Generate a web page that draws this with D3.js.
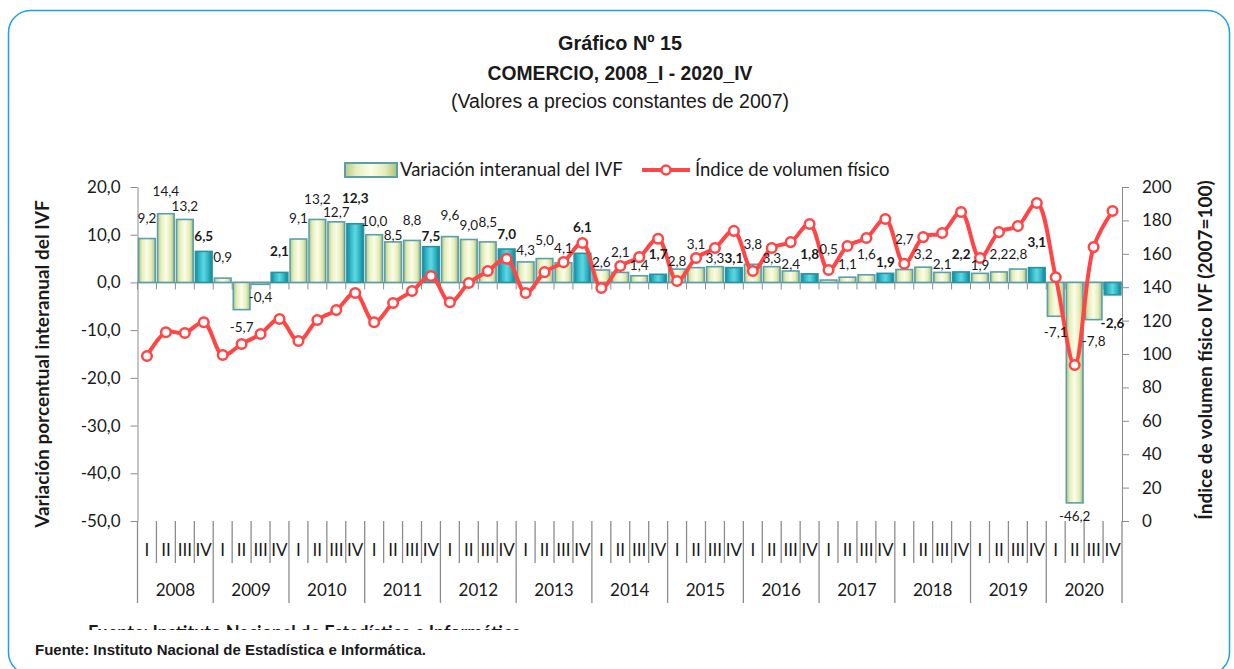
<!DOCTYPE html>
<html lang="es">
<head>
<meta charset="utf-8">
<title>Gráfico Nº 15 - Comercio</title>
<script src="https://cdn.jsdelivr.net/npm/d3@7"></script>
<style>
  body { margin: 0; background: #fff; }
  text { font-family: Lato, "Open Sans", sans-serif; fill: #1a1a1a; }
  .narrow, .narrow text { font-family: "Liberation Sans Narrow", "Arial Narrow", "Liberation Sans", sans-serif; }
  .axis path, .axis line { stroke: #8c8c8c; }
</style>
</head>
<body>
<div id="chart"></div>
<script>

// data
var years = ["2008","2009","2010","2011","2012","2013","2014","2015","2016","2017","2018","2019","2020"];
var quarters = ["I","II","III","IV"];

// Variación interanual del IVF (%)
var variacion = [
   9.2, 14.4, 13.2,  6.5,
   0.9, -5.7, -0.4,  2.1,
   9.1, 13.2, 12.7, 12.3,
  10.0,  8.5,  8.8,  7.5,
   9.6,  9.0,  8.5,  7.0,
   4.3,  5.0,  4.1,  6.1,
   2.6,  2.1,  1.4,  1.7,
   2.8,  3.1,  3.3,  3.1,
   3.8,  3.3,  2.4,  1.8,
   0.5,  1.1,  1.6,  1.9,
   2.7,  3.2,  2.1,  2.2,
   1.9,  2.2,  2.8,  3.1,
  -7.1, -46.2, -7.8, -2.6
];

// Índice de volumen físico (2007=100)
var indice = [
   98.8, 113.0, 112.6, 119.0,
   99.4, 106.0, 112.0, 121.0,
  107.8, 120.4, 126.3, 136.5,
  119.0, 130.5, 137.7, 146.7,
  131.0, 142.5, 149.7, 157.0,
  136.5, 149.0, 155.0, 166.5,
  139.5, 152.7, 158.0, 169.0,
  143.7, 157.5, 163.5, 173.7,
  149.7, 163.5, 167.0, 177.8,
  150.3, 164.7, 169.5, 180.8,
  154.0, 170.0, 172.5, 185.0,
  157.5, 173.0, 176.6, 190.4,
  146.0,  93.4, 164.0, 185.6
];

var leftTicks = [20, 10, 0, -10, -20, -30, -40, -50];
var rightTicks = [0, 20, 40, 60, 80, 100, 120, 140, 160, 180, 200];

// how far each data label sits from the end of its bar (px), as placed in the original
var labelGap = [
  20, 22, 13, 15,  21, 18, 13, 21,  21, 20, 10, 25,  13,  7, 20, 10,
  21, 14, 20, 15,  12, 18, 15, 26,   8, 20, 10, 20,   8, 23,  8,  9,
  20,  8,  7, 20,  31, 13, 21, 11,  30, 13,  8, 18,   8, 18, 15, 25,
  16, 13, 22, 28
];

var W = 1234, H = 669;
var x0 = 137.5, x1 = 1122, yTop = 187, yBot = 521;

var svg = d3.select("#chart").append("svg")
    .attr("width", W)
    .attr("height", H);

var defs = svg.append("defs");

function grad(id, stops) {
  var g = defs.append("linearGradient").attr("id", id)
      .attr("x1", "0").attr("x2", "1").attr("y1", "0").attr("y2", "0");
  stops.forEach(function(s) {
    g.append("stop").attr("offset", s[0]).attr("stop-color", s[1]);
  });
}
grad("pale", [["0%", "#b4c98a"], ["22%", "#e6efbd"], ["50%", "#fbfde8"], ["78%", "#e3ecb8"], ["100%", "#a9bf7c"]]);
grad("teal", [["0%", "#15899a"], ["25%", "#32bccb"], ["50%", "#63d6e0"], ["75%", "#2fb8c8"], ["100%", "#127f8f"]]);

defs.append("clipPath").attr("id", "cut")
  .append("rect").attr("x", 0).attr("y", 600).attr("width", W).attr("height", 30);

// frame
svg.append("rect")
    .attr("x", 8.5).attr("y", 10.5)
    .attr("width", 1221).attr("height", 664)
    .attr("rx", 22).attr("ry", 22)
    .attr("fill", "none")
    .attr("stroke", "#1f9fe6")
    .attr("stroke-width", 1.5);

// titles
var title = svg.append("g").attr("class", "narrow").attr("text-anchor", "middle");
title.append("text").attr("x", 620).attr("y", 50)
    .attr("textLength", 124).attr("lengthAdjust", "spacingAndGlyphs")
    .style("font-size", "20px").style("font-weight", "bold").text("Gráfico Nº 15");
title.append("text").attr("x", 620).attr("y", 80)
    .attr("textLength", 265).attr("lengthAdjust", "spacingAndGlyphs")
    .style("font-size", "20px").style("font-weight", "bold").text("COMERCIO, 2008_I - 2020_IV");
title.append("text").attr("x", 620).attr("y", 108)
    .attr("textLength", 338).attr("lengthAdjust", "spacingAndGlyphs")
    .style("font-size", "20px").text("(Valores a precios constantes de 2007)");

// scales
var idx = d3.range(variacion.length);
var x = d3.scaleBand()
    .domain(idx)
    .range([x0, x1])
    .paddingInner(0.12)
    .paddingOuter(0.06);
var step = x.step();

var yL = d3.scaleLinear().domain([-50, 20]).range([yBot, yTop]);
var yR = d3.scaleLinear().domain([0, 200]).range([yBot, yTop]);

var fmt = function(v) { return v.toFixed(1).replace(".", ","); };

// left axis
var axL = svg.append("g")
    .attr("class", "axis")
    .attr("transform", "translate(" + x0 + ",0)")
    .call(d3.axisLeft(yL).tickValues(leftTicks).tickSize(7).tickSizeOuter(0).tickPadding(10).tickFormat(fmt));
axL.selectAll("text").style("font-size", "17px").style("font-family", "Lato, sans-serif").attr("fill", "#1a1a1a");

// right axis
var axR = svg.append("g")
    .attr("class", "axis")
    .attr("transform", "translate(" + x1 + ",0)")
    .call(d3.axisRight(yR).tickValues(rightTicks).tickSize(7).tickSizeOuter(0).tickPadding(13));
axR.selectAll("text").style("font-size", "17px").style("font-family", "Lato, sans-serif").attr("fill", "#1a1a1a");

// axis titles
svg.append("text")
    .attr("transform", "translate(49," + (yTop + yBot + 20) / 2 + ") rotate(-90)")
    .attr("text-anchor", "middle")
    .style("font-size", "19px").style("font-weight", "bold")
    .text("Variación porcentual interanual del IVF");

svg.append("text")
    .attr("transform", "translate(1212," + (yTop + yBot - 8) / 2 + ") rotate(-90)")
    .attr("text-anchor", "middle")
    .style("font-size", "19px").style("font-weight", "bold")
    .text("Índice de volumen físico IVF (2007=100)");

// zero line with category ticks
var zero = yL(0);
svg.append("line")
    .attr("x1", x0).attr("x2", x1).attr("y1", zero).attr("y2", zero)
    .attr("stroke", "#8c8c8c").attr("stroke-width", 1.5);
svg.append("g").selectAll("line")
    .data(d3.range(variacion.length + 1))
  .enter().append("line")
    .attr("x1", function(i) { return x0 + i * step; })
    .attr("x2", function(i) { return x0 + i * step; })
    .attr("y1", zero).attr("y2", zero + 7)
    .attr("stroke", "#8c8c8c");

// bars
svg.append("g").selectAll("rect")
    .data(idx)
  .enter().append("rect")
    .attr("x", function(i) { return x(i); })
    .attr("width", x.bandwidth())
    .attr("y", function(i) { return Math.min(yL(variacion[i]), zero); })
    .attr("height", function(i) { return Math.abs(yL(variacion[i]) - zero); })
    .attr("fill", function(i) { return i % 4 == 3 ? "url(#teal)" : "url(#pale)"; })
    .attr("stroke", function(i) { return i % 4 == 3 ? "#2a93a3" : "#5a9fab"; })
    .attr("stroke-width", 1.6);

// line
var line = d3.line()
    .x(function(i) { return x(i) + x.bandwidth() / 2; })
    .y(function(i) { return yR(indice[i]); })
    .curve(d3.curveCatmullRom.alpha(0.5));

svg.append("path")
    .datum(idx)
    .attr("d", line)
    .attr("fill", "none")
    .attr("stroke", "#ff4646")
    .attr("stroke-width", 4)
    .attr("stroke-linejoin", "round");

svg.append("g").selectAll("circle")
    .data(idx)
  .enter().append("circle")
    .attr("cx", function(i) { return x(i) + x.bandwidth() / 2; })
    .attr("cy", function(i) { return yR(indice[i]); })
    .attr("r", 4.8)
    .attr("fill", "#fff")
    .attr("stroke", "#ff4646")
    .attr("stroke-width", 2.5);

// data labels
svg.append("g").selectAll("text")
    .data(idx)
  .enter().append("text")
    .attr("x", function(i) { return x(i) + x.bandwidth() / 2; })
    .attr("y", function(i) {
      var v = variacion[i], end = yL(v);
      return v >= 0 ? end - labelGap[i] : end + labelGap[i];
    })
    .attr("dy", "0.35em")
    .attr("text-anchor", "middle")
    .style("font-size", "13.5px")
    .style("font-weight", function(i) { return i % 4 == 3 ? "bold" : "normal"; })
    .text(function(i) { return fmt(variacion[i]); });

// multi-level category axis at the bottom
var cat = svg.append("g");
cat.selectAll("line")
    .data(d3.range(variacion.length + 1))
  .enter().append("line")
    .attr("x1", function(i) { return x0 + i * step; })
    .attr("x2", function(i) { return x0 + i * step; })
    .attr("y1", yBot)
    .attr("y2", function(i) { return i % 4 == 0 ? 603 : 563; })
    .attr("stroke", "#8c8c8c")
    .attr("stroke-width", 1.3);

cat.selectAll(".q")
    .data(idx)
  .enter().append("text")
    .attr("class", "q")
    .attr("x", function(i) { return x(i) + x.bandwidth() / 2; })
    .attr("y", 550)
    .attr("dy", "0.35em")
    .attr("text-anchor", "middle")
    .style("font-size", "17px")
    .text(function(i) { return quarters[i % 4]; });

cat.selectAll(".yr")
    .data(years)
  .enter().append("text")
    .attr("class", "yr")
    .attr("x", function(d, j) { return x0 + (j * 4 + 2) * step; })
    .attr("y", 590)
    .attr("dy", "0.35em")
    .attr("text-anchor", "middle")
    .style("font-size", "17px")
    .text(function(d) { return d; });

// legend
var lg = svg.append("g");
lg.append("rect")
    .attr("x", 345).attr("y", 163).attr("width", 52).attr("height", 14)
    .attr("fill", "url(#pale)").attr("stroke", "#5a9fab").attr("stroke-width", 2);
lg.append("text").attr("x", 400).attr("y", 170).attr("dy", "0.35em")
    .style("font-size", "18.5px").text("Variación interanual del IVF");
lg.append("line")
    .attr("x1", 642).attr("x2", 690).attr("y1", 170).attr("y2", 170)
    .attr("stroke", "#ff4646").attr("stroke-width", 4);
lg.append("circle")
    .attr("cx", 666).attr("cy", 170).attr("r", 4.5)
    .attr("fill", "#fff").attr("stroke", "#ff4646").attr("stroke-width", 2.5);
lg.append("text").attr("x", 695).attr("y", 170).attr("dy", "0.35em")
    .style("font-size", "18.5px").text("Índice de volumen físico");

// source, plus the clipped copy peeking above it
svg.append("text")
    .attr("clip-path", "url(#cut)")
    .attr("x", 88).attr("y", 639)
    .style("font-size", "18px").style("font-weight", "bold")
    .attr("fill", "#555")
    .text("Fuente: Instituto Nacional de Estadística e Informática.");

svg.append("text")
    .attr("class", "narrow")
    .attr("x", 35).attr("y", 655)
    .style("font-size", "15px").style("font-weight", "bold")
    .text("Fuente: Instituto Nacional de Estadística e Informática.");

</script>
</body>
</html>
